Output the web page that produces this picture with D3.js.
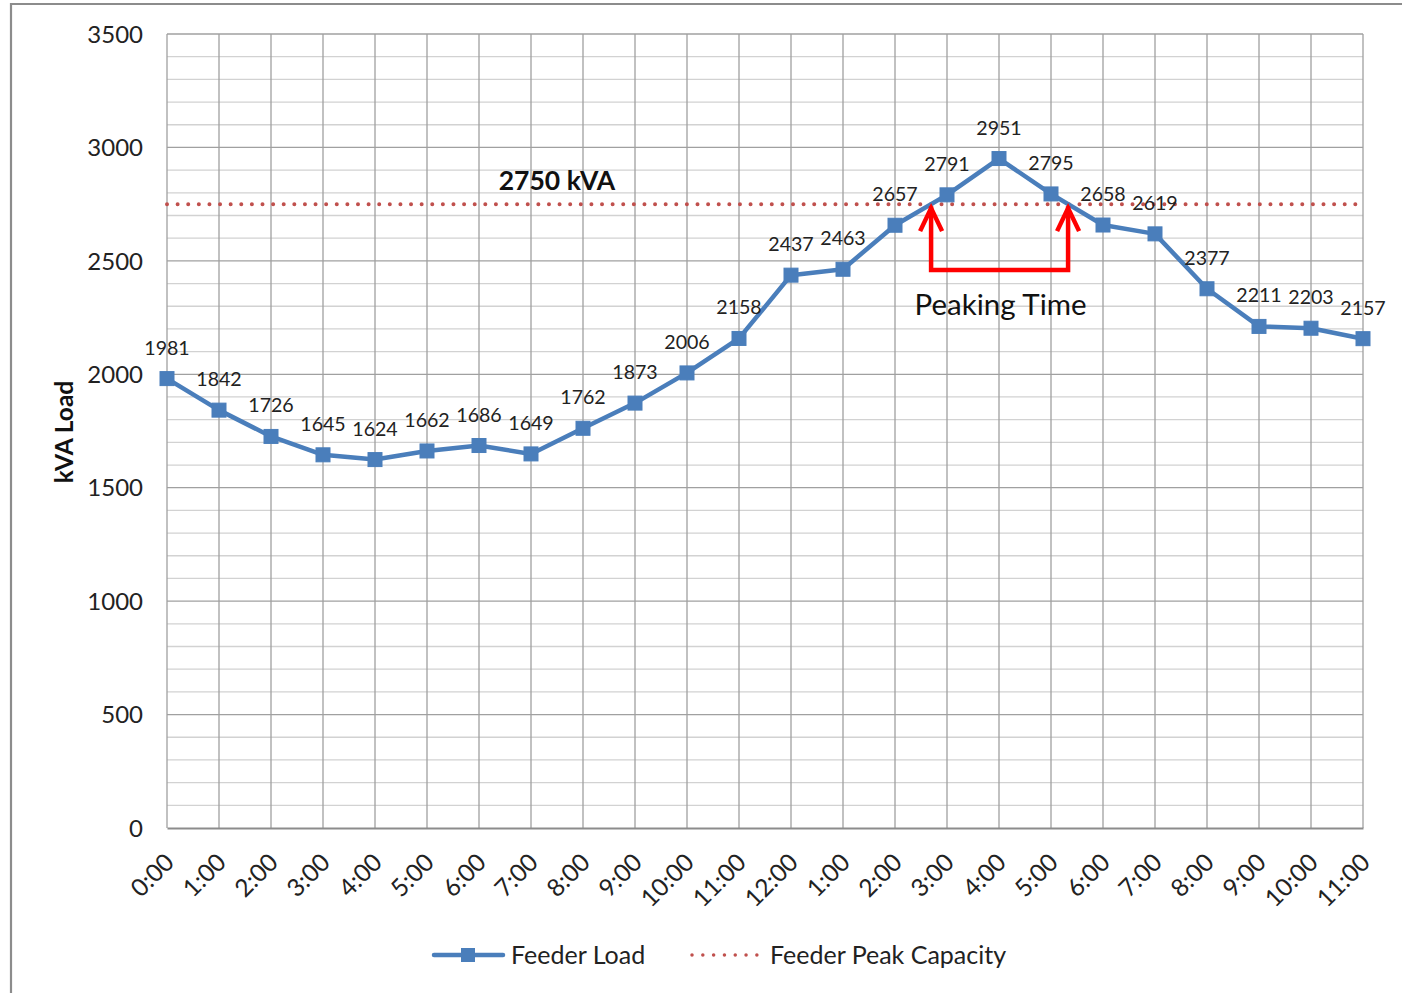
<!DOCTYPE html>
<html>
<head>
<meta charset="utf-8">
<script src="https://cdn.jsdelivr.net/npm/d3@7"></script>
<style>
  html, body { margin: 0; padding: 0; background: #fff; }
  svg { display: block; font-family: Lato, "Liberation Sans", sans-serif; }
</style>
</head>
<body>
<svg id="chart" width="1402" height="993"></svg>
<script>
// Hourly feeder load over one day, starting at midnight
const hours = ["0:00","1:00","2:00","3:00","4:00","5:00","6:00","7:00","8:00","9:00","10:00","11:00",
               "12:00","1:00","2:00","3:00","4:00","5:00","6:00","7:00","8:00","9:00","10:00","11:00"];
const feederLoad = [1981, 1842, 1726, 1645, 1624, 1662, 1686, 1649, 1762, 1873, 2006, 2158,
                    2437, 2463, 2657, 2791, 2951, 2795, 2658, 2619, 2377, 2211, 2203, 2157];
const peakCapacity = 2750;
const yTicks = [0, 500, 1000, 1500, 2000, 2500, 3000, 3500];
const yMinorTicks = d3.range(0, 3501, 100);
const bracketLevel = 2460;   // value at which the peaking-time bracket sits

const svg = d3.select("#chart");
const plotLeft = 167, plotRight = 1363, plotTop = 34, plotBottom = 828;

const x = d3.scalePoint().domain(d3.range(hours.length)).range([plotLeft, plotRight]);
const y = d3.scaleLinear().domain([0, 3500]).range([plotBottom, plotTop]);

// Outer chart frame (top and left edges)
svg.append("path")
  .attr("d", `M11,993 L11,4 L1402,4`)
  .attr("fill", "none").attr("stroke", "#8c8c8c").attr("stroke-width", 2.2);

// Minor horizontal gridlines
svg.append("g").selectAll("line").data(yMinorTicks.filter(v => v % 500 !== 0)).join("line")
  .attr("x1", plotLeft).attr("x2", plotRight)
  .attr("y1", d => y(d)).attr("y2", d => y(d))
  .attr("stroke", "#d2d2d2").attr("stroke-width", 1.3);

// Major horizontal gridlines
svg.append("g").selectAll("line").data(yTicks.filter(v => v > 0)).join("line")
  .attr("x1", plotLeft).attr("x2", plotRight)
  .attr("y1", d => y(d)).attr("y2", d => y(d))
  .attr("stroke", "#a0a0a0").attr("stroke-width", 1.3);

// Vertical gridlines at every hour
svg.append("g").selectAll("line").data(d3.range(hours.length)).join("line")
  .attr("x1", d => x(d)).attr("x2", d => x(d))
  .attr("y1", plotTop).attr("y2", plotBottom)
  .attr("stroke", "#a0a0a0").attr("stroke-width", 1.3);

// Y axis labels
const yAxis = d3.axisLeft(y).tickValues(yTicks).tickSize(0).tickPadding(24).tickFormat(d3.format("d"));
const gy = svg.append("g").attr("transform", `translate(${plotLeft},0)`).call(yAxis);
gy.select(".domain").remove();
gy.selectAll("text").attr("font-size", 24).attr("fill", "#222").attr("font-family", "Lato, sans-serif")
  .attr("dy", "0.34em");

// X axis with rotated hour labels
const xAxis = d3.axisBottom(x).tickSize(0).tickFormat(i => hours[i]);
const gx = svg.append("g").attr("transform", `translate(0,${plotBottom})`).call(xAxis);
gx.select(".domain").attr("stroke", "#8c8c8c").attr("stroke-width", 2);
gx.selectAll("text")
  .attr("font-size", 24.5).attr("fill", "#222").attr("font-family", "Lato, sans-serif")
  .attr("text-anchor", "end")
  .attr("dy", null).attr("y", 0)
  .attr("transform", "translate(8,36) rotate(-45)");

// Feeder peak capacity (dotted)
svg.append("line")
  .attr("x1", plotLeft).attr("x2", plotRight)
  .attr("y1", y(peakCapacity)).attr("y2", y(peakCapacity))
  .attr("stroke", "#c0504d").attr("stroke-width", 4)
  .attr("stroke-linecap", "round").attr("stroke-dasharray", "0.01 10.6");

svg.append("text")
  .attr("x", 557).attr("y", y(peakCapacity) - 14)
  .attr("text-anchor", "middle").attr("font-weight", "bold").attr("font-size", 26.5)
  .attr("fill", "#111").text(`${peakCapacity} kVA`);

// Feeder load line
const line = d3.line().x((d, i) => x(i)).y(d => y(d));
svg.append("path").datum(feederLoad)
  .attr("d", line).attr("fill", "none")
  .attr("stroke", "#4a7ebb").attr("stroke-width", 4.5).attr("stroke-linejoin", "round");

svg.append("g").selectAll("rect").data(feederLoad).join("rect")
  .attr("x", (d, i) => x(i) - 7).attr("y", d => y(d) - 7)
  .attr("width", 14).attr("height", 14)
  .attr("fill", "#4a7ebb").attr("stroke", "#4a7ebb").attr("stroke-width", 1);

// Value labels above each point
svg.append("g").selectAll("text").data(feederLoad).join("text")
  .attr("x", (d, i) => x(i)).attr("y", d => y(d) - 24)
  .attr("text-anchor", "middle").attr("font-size", 19.6).attr("fill", "#222")
  .text(d => d);

// Peaking-time bracket: arrows point where the load crosses the capacity line
function crossing(i0) {
  const a = feederLoad[i0], b = feederLoad[i0 + 1];
  const t = (peakCapacity - a) / (b - a);
  return x(i0) + t * (x(i0 + 1) - x(i0));
}
let upIdx = 0, downIdx = 0;
for (let i = 0; i < feederLoad.length - 1; i++) {
  if (feederLoad[i] < peakCapacity && feederLoad[i + 1] >= peakCapacity) upIdx = i;
  if (feederLoad[i] >= peakCapacity && feederLoad[i + 1] < peakCapacity) downIdx = i;
}
const xa = crossing(upIdx), xb = crossing(downIdx);
const yTip = y(peakCapacity) + 2, yBase = y(bracketLevel);
const red = "#ff0000";
svg.append("path")
  .attr("d", `M${xa},${yTip} L${xa},${yBase} L${xb},${yBase} L${xb},${yTip}`)
  .attr("fill", "none").attr("stroke", red).attr("stroke-width", 4.5).attr("stroke-linejoin", "miter");
[xa, xb].forEach(xx => {
  svg.append("path")
    .attr("d", `M${xx - 11},${yTip + 25} L${xx},${yTip + 2} L${xx + 11},${yTip + 25}`)
    .attr("fill", "none").attr("stroke", red).attr("stroke-width", 4.5)
    .attr("stroke-linejoin", "miter").attr("stroke-linecap", "butt");
});
svg.append("text")
  .attr("x", (xa + xb) / 2 + 1).attr("y", yBase + 45)
  .attr("text-anchor", "middle").attr("font-size", 29.5).attr("fill", "#111")
  .text("Peaking Time");

// Axis title
svg.append("text")
  .attr("transform", "translate(73,432) rotate(-90)")
  .attr("text-anchor", "middle").attr("font-weight", "bold").attr("font-size", 24.5)
  .attr("fill", "#111").text("kVA Load");

// Legend
const legY = 955;
const lg = svg.append("g");
lg.append("line").attr("x1", 434).attr("x2", 503).attr("y1", legY).attr("y2", legY)
  .attr("stroke", "#4a7ebb").attr("stroke-width", 4.5).attr("stroke-linecap", "round");
lg.append("rect").attr("x", 461).attr("y", legY - 7).attr("width", 14).attr("height", 14).attr("fill", "#4a7ebb");
lg.append("text").attr("x", 511).attr("y", legY + 9).attr("font-size", 25).attr("fill", "#222").text("Feeder Load");
lg.append("line").attr("x1", 692).attr("x2", 757).attr("y1", legY).attr("y2", legY)
  .attr("stroke", "#c0504d").attr("stroke-width", 3.5)
  .attr("stroke-linecap", "round").attr("stroke-dasharray", "0.01 10.8");
lg.append("text").attr("x", 770).attr("y", legY + 9).attr("font-size", 25).attr("fill", "#222").text("Feeder Peak Capacity");
</script>
</body>
</html>
